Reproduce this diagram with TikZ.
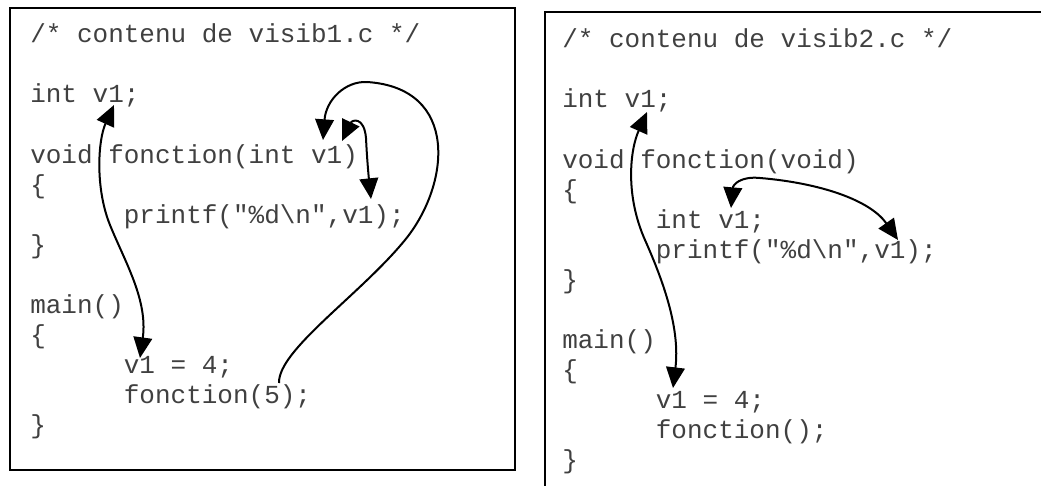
\documentclass[tikz,border=0pt]{standalone}
\usepackage{fontspec}
\newfontfamily\codefont{Liberation Mono}
\usetikzlibrary{arrows.meta}

\begin{document}
\begin{tikzpicture}[
        x=0.75pt, y=-0.75pt,
        code/.style={anchor=base west, inner sep=0pt, text=black!75, font=\codefont\fontsize{19.5pt}{22pt}\selectfont},
        frame/.style={draw, line width=2pt},
        link/.style={draw, line width=1.5pt, {Triangle[length=15.5pt, width=14pt]}-{Triangle[length=15.5pt, width=14pt]}},
        call/.style={draw, line width=1.5pt, -{Triangle[length=15.5pt, width=14pt]}}
    ]
        \useasboundingbox (0,0) rectangle (1041,485);

        \path[frame] (10,8) rectangle (515,470);
        \path[frame] (545,486) -- (545,12) -- (1042,12);

        \node[code] (a0) at (30,43) {/* contenu de visib1.c */};
        \node[code] (a2) at (30,103) {int v1;};
        \node[code] (a4) at (30,163) {void fonction(int v1)};
        \node[code] (a5) at (30,193) {\{};
        \node[code] (a6) at (123.6,223) {printf("\%d\textbackslash n",v1);};
        \node[code] (a7) at (30,253) {\}};
        \node[code] (a9) at (30,313) {main()};
        \node[code] (a10) at (30,343) {\{};
        \node[code] (a11) at (123.6,373) {v1 = 4;};
        \node[code] (a12) at (123.6,403) {fonction(5);};
        \node[code] (a13) at (30,433) {\}};

        \node[code] (b0) at (562,48) {/* contenu de visib2.c */};
        \node[code] (b2) at (562,108) {int v1;};
        \node[code] (b4) at (562,168) {void fonction(void)};
        \node[code] (b5) at (562,198) {\{};
        \node[code] (b6) at (655.6,228) {int v1;};
        \node[code] (b7) at (655.6,258) {printf("\%d\textbackslash n",v1);};
        \node[code] (b8) at (562,288) {\}};
        \node[code] (b10) at (562,348) {main()};
        \node[code] (b11) at (562,378) {\{};
        \node[code] (b12) at (655.6,408) {v1 = 4;};
        \node[code] (b13) at (655.6,438) {fonction();};
        \node[code] (b14) at (562,468) {\}};

        \coordinate (gva) at (114,105);
        \coordinate (mva) at (140,358);
        \coordinate (callfive) at (279,383);
        \coordinate (parv) at (323,140);
        \coordinate (parvb) at (342,141);
        \coordinate (prva) at (371,199);
        \coordinate (gvb) at (647,112);
        \coordinate (mvb) at (673,388);
        \coordinate (locv) at (731,208);
        \coordinate (prvb) at (898,240);

        \path[link] (mva) .. controls (148,300) and (125,262) .. (110,225)
            .. controls (95,188) and (98,140) .. (gva);
        \path[call] (callfive) .. controls (278,350) and (360,295) .. (405,240)
            .. controls (450,185) and (460,88) .. (367,82)
            .. controls (345,81) and (326,100) .. (parv);
        \path[link] (parvb) .. controls (352,120) and (364,116) .. (366,138)
            .. controls (367,160) and (369,180) .. (prva);
        \path[link] (mvb) .. controls (680,330) and (665,285) .. (645,240)
            .. controls (625,195) and (630,150) .. (gvb);
        \path[link] (locv) .. controls (733,185) and (740,176) .. (760,178)
            .. controls (820,183) and (870,200) .. (prvb);
    \end{tikzpicture}
\end{document}
